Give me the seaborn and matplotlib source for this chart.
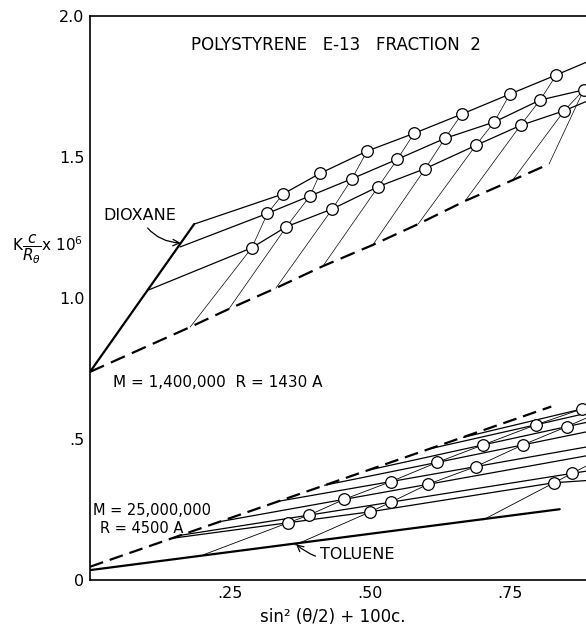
import matplotlib
matplotlib.use("Agg")
import matplotlib.pyplot as plt
import pandas as pd
import seaborn as sns

# ---- dioxane set (upper grid) ----
up_theta0_x = [0.0, 0.186]
up_theta0_y = [0.738, 1.262]
# c = 0 extrapolation (dashed), with the points where the angle lines meet it
up_c0_x = [0.0, 0.179, 0.248, 0.332, 0.416, 0.505, 0.586, 0.670, 0.755, 0.820]
up_c0_y = [0.738, 0.897, 0.961, 1.035, 1.113, 1.188, 1.262, 1.344, 1.418, 1.475]

up_c1_x = [0.289, 0.351, 0.433, 0.515, 0.599, 0.689, 0.769, 0.847]
up_c1_y = [1.178, 1.253, 1.316, 1.395, 1.459, 1.541, 1.612, 1.664]
up_c2_x = [0.317, 0.393, 0.468, 0.549, 0.634, 0.722, 0.804, 0.882]
up_c2_y = [1.300, 1.362, 1.423, 1.492, 1.566, 1.624, 1.702, 1.738]
up_c3_x = [0.345, 0.411, 0.495, 0.579, 0.664, 0.750, 0.833, 0.915]
up_c3_y = [1.369, 1.442, 1.521, 1.584, 1.652, 1.723, 1.791, 1.860]

# concentration lines: start on the theta=0 line, end past the right edge
up_row_x0 = [0.104, 0.161, 0.186]
up_row_y0 = [1.028, 1.181, 1.262]
up_row_x1 = [0.95, 0.95, 0.95]
up_row_y1 = [1.750, 1.790, 1.890]

# ---- toluene set (lower grid) ----
lo_theta0_x = [0.0, 0.839]
lo_theta0_y = [0.035, 0.251]
lo_c0_x = [0.0, 0.824]
lo_c0_y = [0.047, 0.615]

lo_a_x = [0.354, 0.391, 0.454, 0.5375, 0.620, 0.702, 0.796, 0.878]
lo_a_y = [0.203, 0.230, 0.286, 0.349, 0.417, 0.479, 0.550, 0.606]
lo_b_x = [0.501, 0.5375, 0.603, 0.689, 0.773, 0.852]
lo_b_y = [0.242, 0.276, 0.339, 0.402, 0.479, 0.544]
lo_c_x = [0.829, 0.861]
lo_c_y = [0.345, 0.378]

lo_row_x0 = [0.202, 0.366, 0.702]
lo_row_y0 = [0.089, 0.124, 0.213]
lo_row_x1 = [0.95, 0.95, 0.95]
lo_row_y1 = [0.660, 0.630, 0.470]

# angle lines: start on the dashed line, end past the right edge
lo_ang_x0 = [0.147, 0.160, 0.232, 0.336, 0.419, 0.498, 0.606, 0.667]
lo_ang_y0 = [0.148, 0.158, 0.207, 0.279, 0.336, 0.390, 0.465, 0.506]
lo_ang_y1 = [0.361, 0.406, 0.463, 0.494, 0.551, 0.586, 0.620, 0.639]


def lines_df(polys):
    rows = []
    for i, (xs, ys) in enumerate(polys):
        for x, y in zip(xs, ys):
            rows.append({"x": x, "y": y, "seg": i})
    return pd.DataFrame(rows)


def draw(polys, **kw):
    df = lines_df(polys)
    sns.lineplot(data=df, x="x", y="y", units="seg", estimator=None,
                 sort=False, color="black", ax=ax, legend=False, **kw)


sns.set_style("white")
plt.rcParams["font.family"] = ["DejaVu Sans"]
plt.rcParams["lines.scale_dashes"] = False
plt.rcParams["mathtext.fontset"] = "dejavusans"
for key in ["text.color", "axes.labelcolor", "xtick.color", "ytick.color"]:
    plt.rcParams[key] = "black"

fig = plt.figure(figsize=(5.86, 6.26), dpi=100)
ax = fig.add_axes([90 / 586, 46 / 626, 496 / 586, 564 / 626])

# upper grid
up_rows = [(up_c1_x, up_c1_y), (up_c2_x, up_c2_y), (up_c3_x, up_c3_y)]
polys = []
for i, (cx, cy) in enumerate(up_rows):
    polys.append(([up_row_x0[i]] + cx + [up_row_x1[i]],
                  [up_row_y0[i]] + cy + [up_row_y1[i]]))
draw(polys, lw=0.9)

polys = []
for k in range(len(up_c1_x)):
    xs = [up_c0_x[k + 1], up_c1_x[k], up_c2_x[k], up_c3_x[k]]
    ys = [up_c0_y[k + 1], up_c1_y[k], up_c2_y[k], up_c3_y[k]]
    polys.append((xs, ys))
polys.append(([up_c0_x[-1], up_c2_x[-1]], [up_c0_y[-1], up_c2_y[-1]]))
draw(polys, lw=0.5)

draw([(up_theta0_x, up_theta0_y)], lw=1.6)
draw([(up_c0_x, up_c0_y)], lw=1.6)
ax.lines[-1].set_dashes((11, 5.5))

# lower grid
lo_rows = [(lo_a_x, lo_a_y), (lo_b_x, lo_b_y), (lo_c_x, lo_c_y)]
polys = []
for i, (cx, cy) in enumerate(lo_rows):
    polys.append(([lo_row_x0[i]] + cx + [lo_row_x1[i]],
                  [lo_row_y0[i]] + cy + [lo_row_y1[i]]))
draw(polys, lw=0.6)

polys = []
for k in range(len(lo_ang_x0)):
    xs = [lo_ang_x0[k], lo_a_x[k]]
    ys = [lo_ang_y0[k], lo_a_y[k]]
    if k < len(lo_b_x):
        xs.append(lo_b_x[k])
        ys.append(lo_b_y[k])
    if k < len(lo_c_x):
        xs.append(lo_c_x[k])
        ys.append(lo_c_y[k])
    xs.append(0.95)
    ys.append(lo_ang_y1[k])
    polys.append((xs, ys))
draw(polys, lw=0.9)

draw([(lo_theta0_x, lo_theta0_y)], lw=1.6)
draw([(lo_c0_x, lo_c0_y)], lw=1.6)
ax.lines[-1].set_dashes((10, 5))

# measured points
pts_x = up_c1_x + up_c2_x + up_c3_x + lo_a_x + lo_b_x + lo_c_x
pts_y = up_c1_y + up_c2_y + up_c3_y + lo_a_y + lo_b_y + lo_c_y
sns.scatterplot(x=pts_x, y=pts_y, ax=ax, s=70, marker="o", facecolor="white",
                edgecolor="black", linewidth=0.9, zorder=5, legend=False)

ax.set_xlim(0, 0.886)
ax.set_ylim(0, 2.0)
ax.set_xticks([0.25, 0.5, 0.75], [".25", ".50", ".75"])
ax.set_yticks([0, 0.5, 1.0, 1.5, 2.0], ["0", ".5", "1.0", "1.5", "2.0"])
ax.tick_params(direction="in", length=6, width=1, labelsize=11.5, pad=4)
ax.set_xlabel("")
ax.set_ylabel("")
for side in ["left", "bottom", "top"]:
    ax.spines[side].set_linewidth(1.2)
    ax.spines[side].set_color("black")
ax.spines["right"].set_visible(False)

ax.text(0.44, 1.897, "POLYSTYRENE   E-13   FRACTION  2", ha="center",
        va="center", fontsize=12)
ax.text(0.041, 0.702, "M = 1,400,000  R = 1430 A", ha="left", va="center",
        fontsize=11)
ax.text(0.005, 0.245, "M = 25,000,000", ha="left", va="center", fontsize=10.5)
ax.text(0.018, 0.181, "R = 4500 A", ha="left", va="center", fontsize=10.5)

ax.annotate("DIOXANE", xy=(0.162, 1.195), xytext=(0.023, 1.294),
            ha="left", va="center", fontsize=11.5,
            arrowprops=dict(arrowstyle="->", lw=0.9, color="black",
                            connectionstyle="arc3,rad=0.3",
                            shrinkA=2, shrinkB=0))
ax.annotate("TOLUENE", xy=(0.368, 0.127), xytext=(0.411, 0.089),
            ha="left", va="center", fontsize=11.5,
            arrowprops=dict(arrowstyle="->", lw=0.9, color="black",
                            connectionstyle="arc3,rad=-0.3",
                            shrinkA=1, shrinkB=0))

fig.text(12 / 586, 1 - 250 / 626, r"K$\dfrac{c}{R_\theta}$x 10$^6$",
         ha="left", va="center", fontsize=11)
fig.text(333 / 586, 9 / 626, "sin² (θ/2) + 100c.", ha="center", va="center",
         fontsize=12)

fig.savefig("out.png", dpi=100)
